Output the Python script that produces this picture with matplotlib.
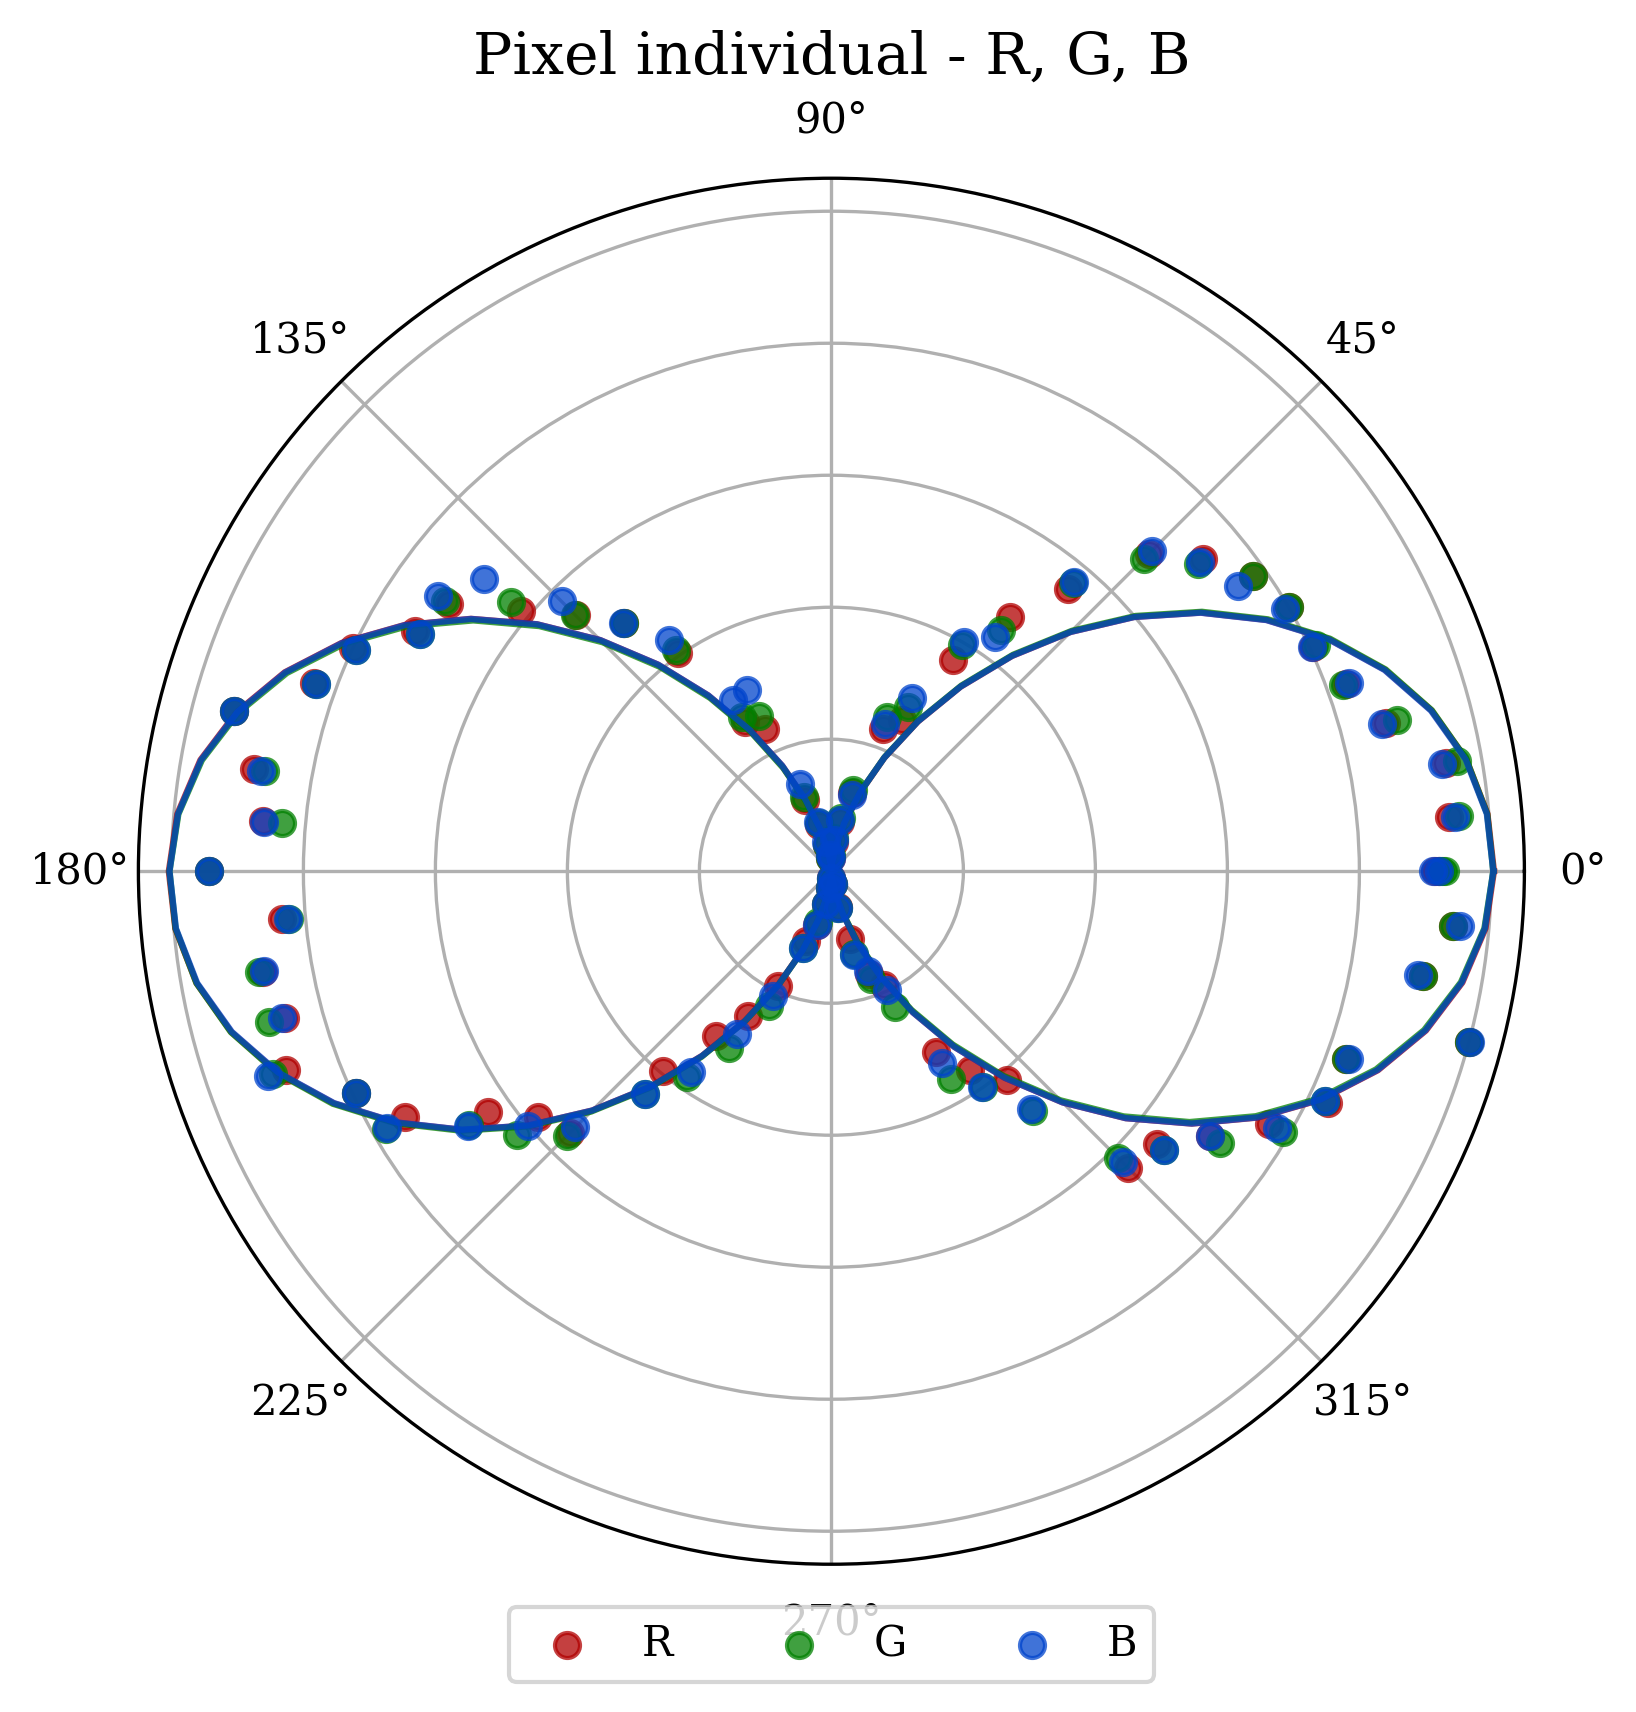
import numpy as np
import matplotlib
matplotlib.use('Agg')
import matplotlib.pyplot as plt

# measurement angles (deg), one reading every 5 degrees, 0..360
angles_deg = np.arange(0, 365, 5)

r_R = [0.915, 0.940, 0.945, 0.870, 0.830, 0.805, 0.800, 0.780, 0.735, 0.680,
       0.558, 0.471, 0.370, 0.252, 0.230, 0.122, 0.075, 0.045, 0.020, 0.020,
       0.040, 0.072, 0.115, 0.237, 0.261, 0.404, 0.490, 0.548, 0.613, 0.707,
       0.729, 0.800, 0.835, 0.937, 0.888, 0.865, 0.943, 0.835, 0.875, 0.857,
       0.880, 0.795, 0.746, 0.635, 0.580, 0.560, 0.396, 0.304, 0.254, 0.192,
       0.113, 0.084, 0.050, 0.025, 0.010, 0.020, 0.055, 0.107, 0.165, 0.190,
       0.316, 0.367, 0.413, 0.635, 0.644, 0.700, 0.765, 0.830, 0.830, 1.000,
       0.910, 0.945, 0.920]
r_G = [0.925, 0.955, 0.963, 0.887, 0.825, 0.810, 0.800, 0.780, 0.725, 0.669,
       0.570, 0.447, 0.395, 0.274, 0.248, 0.127, 0.082, 0.050, 0.025, 0.020,
       0.040, 0.075, 0.120, 0.259, 0.270, 0.410, 0.490, 0.550, 0.634, 0.715,
       0.720, 0.794, 0.831, 0.937, 0.872, 0.835, 0.943, 0.825, 0.880, 0.882,
       0.900, 0.795, 0.780, 0.670, 0.621, 0.567, 0.440, 0.381, 0.309, 0.225,
       0.124, 0.080, 0.050, 0.025, 0.012, 0.020, 0.057, 0.130, 0.174, 0.227,
       0.363, 0.400, 0.475, 0.615, 0.657, 0.719, 0.790, 0.825, 0.830, 1.000,
       0.910, 0.945, 0.930]
r_B = [0.912, 0.949, 0.939, 0.864, 0.834, 0.803, 0.794, 0.753, 0.729, 0.686,
       0.573, 0.433, 0.401, 0.289, 0.238, 0.119, 0.079, 0.048, 0.020, 0.025,
       0.045, 0.078, 0.141, 0.303, 0.299, 0.428, 0.491, 0.578, 0.688, 0.727,
       0.719, 0.794, 0.831, 0.937, 0.877, 0.863, 0.943, 0.827, 0.873, 0.861,
       0.909, 0.795, 0.778, 0.673, 0.601, 0.549, 0.440, 0.372, 0.285, 0.209,
       0.124, 0.084, 0.050, 0.025, 0.010, 0.020, 0.057, 0.131, 0.161, 0.198,
       0.335, 0.399, 0.470, 0.624, 0.657, 0.700, 0.779, 0.825, 0.834, 1.002,
       0.903, 0.956, 0.920]

# fitted Malus-law curves: amp * cos^2(theta - phase) + offset
fit_amp = [1.000, 1.000, 0.998]
fit_phase_deg = [0.5, 0.7, 0.5]
fit_offset = [0.004, 0.003, 0.005]

channels = ['R', 'G', 'B']
colors = ['#b00000', '#008000', '#0044cc']

plt.rcParams['font.family'] = 'serif'
plt.rcParams['font.serif'] = ['DejaVu Serif']
plt.rcParams['font.size'] = 10

fig = plt.figure(figsize=(6, 6))
ax = fig.add_subplot(111, projection='polar')

theta = np.deg2rad(angles_deg)
for name, vals, col, a, ph, off in zip(channels, [r_R, r_G, r_B], colors,
                                       fit_amp, fit_phase_deg, fit_offset):
    ax.scatter(theta, vals, color=col, alpha=0.75, label=name, zorder=2)
    fit = a * np.cos(theta - np.deg2rad(ph)) ** 2 + off
    ax.plot(theta, fit, color=col, alpha=0.75, zorder=2)

ax.set_rlim(0, 1.05)
ax.set_yticks([0.2, 0.4, 0.6, 0.8, 1.0])
ax.set_yticklabels([])
ax.set_title('Pixel individual - R, G, B', fontsize=14)
ax.legend(loc='lower center', bbox_to_anchor=(0.5, -0.1), ncol=3)

fig.savefig('out.png', dpi=300, bbox_inches='tight')
